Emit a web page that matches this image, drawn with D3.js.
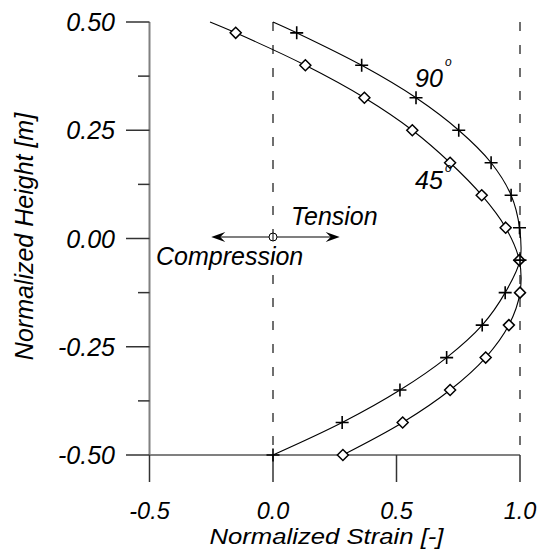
<!DOCTYPE html>
<html>
<head>
<meta charset="utf-8">
<script src="https://cdn.jsdelivr.net/npm/d3@7"></script>
<style>
  html, body { margin: 0; padding: 0; background: #fff; }
  svg text { font-family: Arial, "Liberation Sans", sans-serif; font-style: italic; fill: #000; }
</style>
</head>
<body>
<svg id="chart" width="541" height="549"></svg>
<script>
// ---- data ----
const xTicks = [-0.5, 0.0, 0.5, 1.0];
const xTickLabels = ["-0.5", "0.0", "0.5", "1.0"];
const yMajorTicks = [0.5, 0.25, 0.0, -0.25, -0.5];
const yTickLabels = ["0.50", "0.25", "0.00", "-0.25", "-0.50"];
const yMinorTicks = [0.375, 0.125, -0.125, -0.375];

// measured points (markers)
const heights = [0.475, 0.4, 0.325, 0.25, 0.175, 0.1, 0.025, -0.05, -0.125, -0.2, -0.275, -0.35, -0.425, -0.5];
const strain90 = [0.096, 0.359, 0.579, 0.752, 0.883, 0.964, 0.998, 1.0, 0.94, 0.847, 0.703, 0.514, 0.28, 0.0];
const strain45 = [-0.151, 0.131, 0.37, 0.564, 0.717, 0.845, 0.942, 0.997, 1.0, 0.955, 0.861, 0.717, 0.525, 0.283];

// curve end points at top (no marker)
const top90 = { strain: 0.0, height: 0.5 };
const top45 = { strain: -0.255, height: 0.5 };

const arrowRange = [-0.25, 0.27];

// ---- scales ----
const x = d3.scaleLinear().domain([-0.5, 1.0]).range([149.5, 520]);
const y = d3.scaleLinear().domain([-0.5, 0.5]).range([455, 22]);

const svg = d3.select("#chart");
const axisColor = "#808080";
const tickColor = "#333";

// dashed reference lines
[0.0, 1.0].forEach(v => {
  svg.append("line")
    .attr("x1", x(v)).attr("x2", x(v))
    .attr("y1", y(0.5)).attr("y2", y(-0.5))
    .attr("stroke", "#333").attr("stroke-width", 1.4)
    .attr("stroke-dasharray", "9,14");
});

// y axis line
svg.append("line")
  .attr("x1", x(-0.5)).attr("x2", x(-0.5))
  .attr("y1", y(0.5)).attr("y2", y(-0.5))
  .attr("stroke", axisColor).attr("stroke-width", 2);
// x axis line
svg.append("line")
  .attr("x1", x(-0.5)).attr("x2", x(1.0))
  .attr("y1", y(-0.5)).attr("y2", y(-0.5))
  .attr("stroke", axisColor).attr("stroke-width", 2);

// y major ticks
svg.selectAll(".ymaj").data(yMajorTicks).enter().append("line")
  .attr("x1", x(-0.5) - 23.5).attr("x2", x(-0.5))
  .attr("y1", d => y(d)).attr("y2", d => y(d))
  .attr("stroke", tickColor).attr("stroke-width", 1.5);
// y minor ticks
svg.selectAll(".ymin").data(yMinorTicks).enter().append("line")
  .attr("x1", x(-0.5) - 11.5).attr("x2", x(-0.5))
  .attr("y1", d => y(d)).attr("y2", d => y(d))
  .attr("stroke", tickColor).attr("stroke-width", 1.5);
// y tick labels
svg.selectAll(".ylab").data(yMajorTicks).enter().append("text")
  .attr("x", 115).attr("y", d => y(d) + 9)
  .attr("text-anchor", "end").attr("font-size", 25)
  .text((d, i) => yTickLabels[i]);

// x ticks
svg.selectAll(".xt").data(xTicks).enter().append("line")
  .attr("x1", d => x(d)).attr("x2", d => x(d))
  .attr("y1", y(-0.5)).attr("y2", y(-0.5) + 27)
  .attr("stroke", tickColor).attr("stroke-width", 1.5);
svg.selectAll(".xlab").data(xTicks).enter().append("text")
  .attr("x", d => x(d)).attr("y", 518.5)
  .attr("text-anchor", "middle").attr("font-size", 23.5)
  .text((d, i) => xTickLabels[i]);

// axis titles
svg.append("text")
  .attr("x", 326.5).attr("y", 544)
  .attr("text-anchor", "middle").attr("font-size", 22.5)
  .attr("textLength", 234).attr("lengthAdjust", "spacingAndGlyphs")
  .text("Normalized Strain [-]");
svg.append("text")
  .attr("transform", "translate(33,236.5) rotate(-90)")
  .attr("text-anchor", "middle").attr("font-size", 25)
  .text("Normalized Height [m]");

// curves
const line = d3.line()
  .x(d => x(d.strain)).y(d => y(d.height))
  .curve(d3.curveCatmullRom.alpha(0.5));

const pts90 = heights.map((h, i) => ({ strain: strain90[i], height: h }));
const pts45 = heights.map((h, i) => ({ strain: strain45[i], height: h }));

svg.append("path").datum([top90].concat(pts90))
  .attr("d", line).attr("fill", "none").attr("stroke", "#000").attr("stroke-width", 1.1);
svg.append("path").datum([top45].concat(pts45))
  .attr("d", line).attr("fill", "none").attr("stroke", "#000").attr("stroke-width", 1.1);

// diamond markers (45°)
svg.selectAll(".dia").data(pts45).enter().append("path")
  .attr("d", d => {
    const cx = x(d.strain), cy = y(d.height), r = 5.5;
    return `M${cx},${cy - r}L${cx + r},${cy}L${cx},${cy + r}L${cx - r},${cy}Z`;
  })
  .attr("fill", "#fff").attr("stroke", "#000").attr("stroke-width", 1.5);

// plus markers (90°)
svg.selectAll(".plus").data(pts90).enter().append("path")
  .attr("d", d => {
    const cx = x(d.strain), cy = y(d.height), r = 6.5;
    return `M${cx - r},${cy}H${cx + r}M${cx},${cy - r}V${cy + r}`;
  })
  .attr("fill", "none").attr("stroke", "#000").attr("stroke-width", 1.6);

// series labels
svg.append("text").attr("x", 415).attr("y", 87).attr("font-size", 25).text("90");
svg.append("text").attr("x", 445).attr("y", 66).attr("font-size", 12).text("o");
svg.append("text").attr("x", 415).attr("y", 189).attr("font-size", 25).text("45");
svg.append("text").attr("x", 445).attr("y", 172).attr("font-size", 12).text("o");

// tension / compression arrow
const ay = y(0) - 1.5;
const ax1 = x(arrowRange[0]), ax2 = x(arrowRange[1]);
svg.append("line")
  .attr("x1", ax1 + 4).attr("x2", ax2 - 4)
  .attr("y1", ay).attr("y2", ay)
  .attr("stroke", "#000").attr("stroke-width", 1.2);
svg.append("path")
  .attr("d", `M${ax1},${ay}L${ax1 + 14},${ay - 5}L${ax1 + 9},${ay}L${ax1 + 14},${ay + 5}Z`)
  .attr("fill", "#000");
svg.append("path")
  .attr("d", `M${ax2},${ay}L${ax2 - 14},${ay - 5}L${ax2 - 9},${ay}L${ax2 - 14},${ay + 5}Z`)
  .attr("fill", "#000");
svg.append("circle")
  .attr("cx", x(0)).attr("cy", ay).attr("r", 4)
  .attr("fill", "#fff").attr("stroke", "#000").attr("stroke-width", 1);
svg.append("line")
  .attr("x1", x(0)).attr("x2", x(0)).attr("y1", ay - 4).attr("y2", ay + 4)
  .attr("stroke", "#000").attr("stroke-width", 1);

svg.append("text").attr("x", 291).attr("y", 225).attr("font-size", 25).text("Tension");
svg.append("text").attr("x", 156).attr("y", 265).attr("font-size", 25).text("Compression");
</script>
</body>
</html>
